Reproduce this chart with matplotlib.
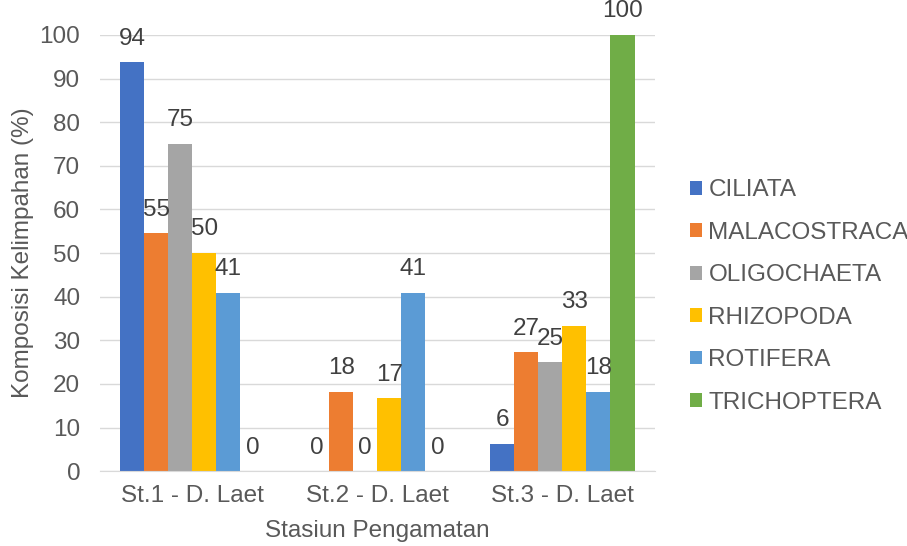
import matplotlib.pyplot as plt
import numpy as np

plt.rcParams['font.family'] = ['Liberation Sans', 'DejaVu Sans']

stations = ['St.1 - D. Laet', 'St.2 - D. Laet', 'St.3 - D. Laet']
taxa = ['CILIATA', 'MALACOSTRACA', 'OLIGOCHAETA', 'RHIZOPODA', 'ROTIFERA', 'TRICHOPTERA']
ciliata = [93.75, 0, 6.25]
malacostraca = [54.55, 18.18, 27.27]
oligochaeta = [75, 0, 25]
rhizopoda = [50, 16.67, 33.33]
rotifera = [40.91, 40.91, 18.18]
trichoptera = [0, 0, 100]
colors = ['#4472C4', '#ED7D31', '#A5A5A5', '#FFC000', '#5B9BD5', '#70AD47']

series = [ciliata, malacostraca, oligochaeta, rhizopoda, rotifera, trichoptera]
fs = 17.5

fig = plt.figure(figsize=(9.07, 5.46), dpi=100)
ax = fig.add_axes([0.110, 0.137, 0.612, 0.799])

x = np.arange(len(stations))
w = 0.13
for i, (name, vals, c) in enumerate(zip(taxa, series, colors)):
    pos = x + (i - 2.5) * w
    ax.bar(pos, vals, w, color=c, label=name, zorder=2)
    for p, v in zip(pos, vals):
        ax.annotate(f'{v:.0f}', (p, v), xytext=(0, 17), textcoords='offset points',
                    ha='center', va='center', fontsize=fs, color='#404040',
                    annotation_clip=False)

ax.set_xlim(-0.5, 2.5)
ax.set_ylim(0, 100)
ax.set_yticks(range(0, 101, 10))
ax.set_xticks(x)
ax.set_xticklabels(stations)
ax.yaxis.grid(True, color='#d9d9d9', linewidth=1, zorder=0)
ax.set_axisbelow(True)
for s in ['top', 'right', 'left']:
    ax.spines[s].set_visible(False)
ax.spines['bottom'].set_color('#d9d9d9')
ax.tick_params(axis='both', length=0, labelsize=fs, colors='#595959')
ax.tick_params(axis='y', pad=14)
ax.tick_params(axis='x', pad=10)
ax.set_ylabel('Komposisi Kelimpahan (%)', fontsize=fs, color='#595959', labelpad=4)
ax.set_xlabel('Stasiun Pengamatan', fontsize=fs, color='#595959', labelpad=9)

fig.legend(loc='center left', bbox_to_anchor=(0.761, 0.457), frameon=False,
           fontsize=fs, handlelength=0.5, handleheight=0.5, handletextpad=0.25,
           labelspacing=0.84, labelcolor='#595959', borderpad=0, borderaxespad=0)

fig.savefig('out.png', dpi=100)
